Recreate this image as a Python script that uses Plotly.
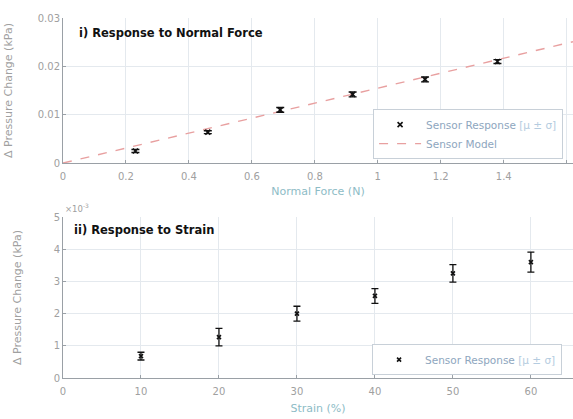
import plotly.graph_objects as go

# Panel i: pressure change vs applied normal force
force_n = [0.23, 0.46, 0.69, 0.92, 1.15, 1.38]
force_dp = [0.0025, 0.0064, 0.0110, 0.0142, 0.0173, 0.0210]
force_sd = [0.0003, 0.0003, 0.0005, 0.0005, 0.0005, 0.0004]
model_x = [0.0, 1.62]
model_y = [0.0, 0.0251]

# Panel ii: pressure change vs strain
strain_pct = [10, 20, 30, 40, 50, 60]
strain_dp = [0.00068, 0.00127, 0.00200, 0.00255, 0.00325, 0.00360]
strain_sd = [0.00012, 0.00027, 0.00023, 0.00023, 0.00027, 0.00031]

top_yticks = [0, 0.01, 0.02, 0.03]
top_xticks = [0, 0.2, 0.4, 0.6, 0.8, 1, 1.2, 1.4, 1.6]
bot_yticks = [0, 1, 2, 3, 4, 5]
bot_xticks = [0, 10, 20, 30, 40, 50, 60]

FONT = "DejaVu Sans, Verdana, sans-serif"
TICK = "#a0a0a0"
GRID = "#e4e9ee"
AXIS = "#9aa0a6"
resp_label = "Sensor Response <span style='color:#b4cce0'>[μ ± σ]</span>"

fig = go.Figure()

fig.add_trace(go.Scatter(
    x=model_x, y=model_y, mode="lines", name="Sensor Model",
    line=dict(color="#e8a0a0", width=1.4, dash="dash"),
    xaxis="x", yaxis="y", legend="legend", legendrank=2))

fig.add_trace(go.Scatter(
    x=force_n, y=force_dp, mode="markers", name=resp_label,
    marker=dict(symbol="x-thin", size=5, line=dict(color="#111", width=1.6)),
    error_y=dict(type="data", array=force_sd, color="#111", thickness=1.4, width=4),
    xaxis="x", yaxis="y", legend="legend", legendrank=1))

fig.add_trace(go.Scatter(
    x=strain_pct, y=strain_dp, mode="markers", name=resp_label,
    marker=dict(symbol="x-thin", size=4, line=dict(color="#111", width=1.6)),
    error_y=dict(type="data", array=strain_sd, color="#111", thickness=1.3, width=3.5),
    xaxis="x2", yaxis="y2", legend="legend2"))

common_axis = dict(
    showgrid=True, gridcolor=GRID, gridwidth=1,
    showline=True, linecolor=AXIS, linewidth=1,
    ticks="inside", ticklen=3, tickcolor=AXIS,
    tickfont=dict(family=FONT, size=10, color=TICK),
    zeroline=False)

xtitle_font = dict(family=FONT, size=11, color="#8dbcc6")
ytitle_font = dict(family=FONT, size=11, color="#a0a0a0")
legend_font = dict(family=FONT, size=10.5, color="#8ea6be")

fig.update_layout(
    width=573, height=419,
    margin=dict(l=63, r=0, t=18, b=41),
    paper_bgcolor="white", plot_bgcolor="white",
    font=dict(family=FONT),
    xaxis=dict(common_axis, domain=[0, 1], anchor="y", range=[0, 1.62],
               tickvals=top_xticks, ticktext=[f"{v:g}" for v in top_xticks],
               ticklabelstandoff=4,
               title=dict(text="Normal Force (N)", standoff=6, font=xtitle_font)),
    yaxis=dict(common_axis, domain=[0.597, 1], anchor="x", range=[0, 0.03],
               tickvals=top_yticks, ticktext=["0", "0.01", "0.02", "0.03"],
               title=dict(text="Δ Pressure Change (kPa)", standoff=22, font=ytitle_font)),
    xaxis2=dict(common_axis, domain=[0, 1], anchor="y2", range=[0, 65.4],
                tickvals=bot_xticks, ticktext=[str(v) for v in bot_xticks],
                ticklabelstandoff=4,
                title=dict(text="Strain (%)", standoff=8, font=xtitle_font)),
    yaxis2=dict(common_axis, domain=[0, 0.447], anchor="x2", range=[0, 0.005],
                tickvals=[v * 1e-3 for v in bot_yticks],
                ticktext=[str(v) for v in bot_yticks],
                title=dict(text="Δ Pressure Change (kPa)", standoff=29, font=ytitle_font)),
    legend=dict(x=0.608, y=0.608, xanchor="left", yanchor="bottom",
                bgcolor="white", bordercolor="#c8d0d8", borderwidth=1,
                font=legend_font, tracegroupgap=0, itemwidth=42),
    legend2=dict(x=0.606, y=0.008, xanchor="left", yanchor="bottom",
                 bgcolor="white", bordercolor="#c8d0d8", borderwidth=1,
                 font=legend_font, itemwidth=42),
    showlegend=True,
    annotations=[
        dict(text="<b>i) Response to Normal Force</b>", xref="paper", yref="paper",
             x=0.027, y=0.958, xanchor="left", yanchor="middle", showarrow=False,
             font=dict(family=FONT, size=11.5, color="#111")),
        dict(text="<b>ii) Response to Strain</b>", xref="paper", yref="paper",
             x=0.017, y=0.41, xanchor="left", yanchor="middle", showarrow=False,
             font=dict(family=FONT, size=11.5, color="#111")),
        dict(text="×10<sup>-3</sup>", xref="paper", yref="paper",
             x=0.0, y=0.472, xanchor="left", yanchor="middle", showarrow=False,
             font=dict(family=FONT, size=8.5, color=TICK)),
    ],
)

fig.write_html("out.html")
